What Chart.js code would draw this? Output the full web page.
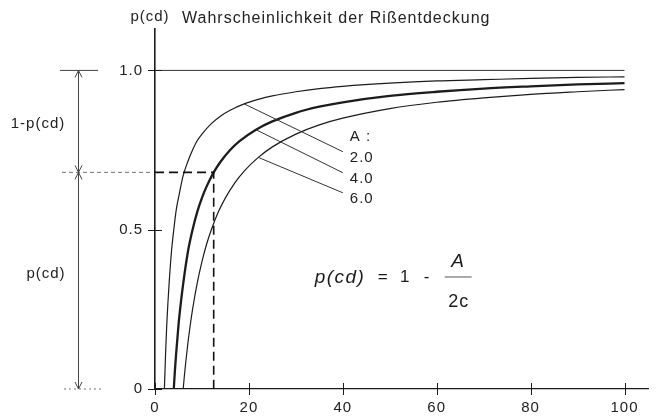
<!DOCTYPE html>
<html>
<head>
<meta charset="utf-8">
<script src="https://cdn.jsdelivr.net/npm/chart.js@4"></script>
<style>
  html, body { margin: 0; padding: 0; background: #fff; }
  canvas { display: block; }
</style>
</head>
<body>
<canvas id="c" width="656" height="418"></canvas>
<script>
// Detection probability p(cd) over crack length c, one curve per parameter A
const cA2 = [2, 2.25, 2.5, 2.75, 3, 3.5, 4, 4.5, 5, 6, 7, 8, 9, 10, 12, 14, 16, 19, 22, 25, 30, 35, 40, 50, 60, 70, 80, 90, 100];
const pA2 = [0, 0.11, 0.20, 0.27, 0.33, 0.43, 0.50, 0.56, 0.60, 0.67, 0.714, 0.75, 0.78, 0.80, 0.833, 0.857, 0.875, 0.895, 0.909, 0.92, 0.933, 0.943, 0.95, 0.96, 0.967, 0.971, 0.975, 0.978, 0.98];
const cA4 = [4, 4.25, 4.5, 5, 5.5, 6, 7, 8, 9, 10, 11, 12.5, 14, 16, 18, 21.5, 25, 30, 35, 40, 50, 60, 70, 80, 90, 100];
const pA4 = [0, 0.06, 0.11, 0.20, 0.27, 0.33, 0.43, 0.50, 0.556, 0.60, 0.636, 0.68, 0.714, 0.75, 0.778, 0.814, 0.84, 0.867, 0.886, 0.90, 0.92, 0.933, 0.943, 0.95, 0.956, 0.96];
const cA6 = [6, 6.25, 6.5, 7, 7.5, 8, 9, 10, 11, 12, 13.5, 15, 17, 19, 22, 25, 30, 35, 40, 50, 60, 70, 80, 90, 100];
const pA6 = [0, 0.04, 0.077, 0.143, 0.20, 0.25, 0.333, 0.40, 0.455, 0.50, 0.556, 0.60, 0.647, 0.684, 0.727, 0.76, 0.80, 0.829, 0.85, 0.88, 0.90, 0.914, 0.925, 0.933, 0.94];

const curveLabels = ['2.0', '4.0', '6.0'];
const leaderIdx = [17, 15, 14];          // point on each curve where its label leader starts
const labelC = 41.5;                     // label column position (c)
const labelP = [0.726, 0.66, 0.597];     // label rows (p)
const headerP = 0.792;                   // "A :" row

const xTicks = [0, 20, 40, 60, 80, 100];
const yTicks = [0, 0.5, 1];
const yTickLabels = ['0', '0.5', '1.0'];

const readC = 12.5;   // example reading on the A = 4.0 curve
const readP = 0.68;

const FONT = "'Liberation Sans', Arial, Helvetica, sans-serif";
const INK = '#1c1c1c';

const toPts = (cs, ps) => cs.map((c, i) => ({ x: c, y: ps[i] }));

// slightly open tracking for all lettering
const tracking = {
  id: 'tracking',
  beforeDraw(chart) { chart.ctx.letterSpacing = '1px'; }
};

const annotations = {
  id: 'annotations',
  afterDraw(chart) {
    const ctx = chart.ctx;
    const xs = chart.scales.x, ys = chart.scales.y;
    const ax = xs.getPixelForValue(0);
    const ay = ys.getPixelForValue(0);
    ctx.save();
    ctx.letterSpacing = '1px';

    // tick crosses on both axes
    ctx.strokeStyle = INK;
    ctx.lineWidth = 1;
    yTicks.forEach(v => {
      const y = Math.round(ys.getPixelForValue(v)) + 0.5;
      ctx.beginPath(); ctx.moveTo(ax - 7, y); ctx.lineTo(ax + 7, y); ctx.stroke();
    });
    xTicks.forEach(v => {
      const x = Math.round(xs.getPixelForValue(v)) + 0.5;
      ctx.beginPath(); ctx.moveTo(x, ay - 6); ctx.lineTo(x, ay + 6); ctx.stroke();
    });

    // reading line for the A = 4.0 example
    const rx = xs.getPixelForValue(readC), ry = ys.getPixelForValue(readP);
    ctx.strokeStyle = '#111';
    ctx.lineWidth = 1.6;
    ctx.setLineDash([9, 5]);
    ctx.beginPath(); ctx.moveTo(ax, ry); ctx.lineTo(rx, ry); ctx.lineTo(rx, ay); ctx.stroke();
    ctx.strokeStyle = '#777';
    ctx.lineWidth = 1;
    ctx.setLineDash([4, 3]);
    ctx.beginPath(); ctx.moveTo(62, ry); ctx.lineTo(ax - 2, ry); ctx.stroke();
    ctx.setLineDash([2, 3]);
    ctx.beginPath(); ctx.moveTo(64, ay); ctx.lineTo(102, ay); ctx.stroke();
    ctx.setLineDash([]);

    // dimension arrows on the left
    const y1 = ys.getPixelForValue(1);
    const dx = 78.5;
    ctx.strokeStyle = '#444';
    ctx.lineWidth = 1;
    ctx.beginPath(); ctx.moveTo(60, y1); ctx.lineTo(98, y1); ctx.stroke();
    ctx.beginPath(); ctx.moveTo(dx, y1); ctx.lineTo(dx, ay); ctx.stroke();
    const head = (x, y, d) => {
      ctx.beginPath();
      ctx.moveTo(x - 3.5, y - 7 * d); ctx.lineTo(x, y); ctx.lineTo(x + 3.5, y - 7 * d);
      ctx.stroke();
    };
    head(dx, y1, -1); head(dx, ry, 1); head(dx, ry, -1); head(dx, ay, 1);

    ctx.fillStyle = '#222';
    ctx.font = '15px ' + FONT;
    ctx.textAlign = 'center';
    ctx.textBaseline = 'middle';
    ctx.fillText('1-p(cd)', 38, (y1 + ry) / 2 + 2);
    ctx.fillText('p(cd)', 46, ys.getPixelForValue(0.36));

    // axis title
    ctx.fillText('p(cd)', ax - 5, 17);
    ctx.textAlign = 'left';
    ctx.font = '16px ' + FONT;
    ctx.fillText('Wahrscheinlichkeit der Rißentdeckung', 182, 19);

    // curve labels with leader lines
    const lx = xs.getPixelForValue(labelC);
    ctx.font = '15px ' + FONT;
    ctx.fillText('A :', lx, ys.getPixelForValue(headerP));
    ctx.strokeStyle = '#333';
    ctx.lineWidth = 1;
    curveLabels.forEach((t, i) => {
      const ty = ys.getPixelForValue(labelP[i]);
      ctx.fillText(t, lx, ty);
      const pt = chart.getDatasetMeta(i + 1).data[leaderIdx[i]];
      ctx.beginPath(); ctx.moveTo(pt.x, pt.y); ctx.lineTo(lx - 7, ty - 6); ctx.stroke();
    });

    // formula
    const fx = xs.getPixelForValue(34), fy = ys.getPixelForValue(0.35);
    ctx.fillStyle = '#1a1a1a';
    ctx.letterSpacing = '1.5px';
    ctx.font = 'italic 19px ' + FONT;
    ctx.textAlign = 'left';
    ctx.fillText('p(cd)', fx, fy);
    ctx.letterSpacing = '0px';
    ctx.font = '17px ' + FONT;
    ctx.textAlign = 'center';
    ctx.fillText('=', fx + 68, fy);
    ctx.fillText('1', fx + 90, fy);
    ctx.fillText('-', fx + 112, fy);
    ctx.font = 'italic 19px ' + FONT;
    ctx.fillText('A', fx + 143, fy - 16);
    ctx.letterSpacing = '1px';
    ctx.font = '18px ' + FONT;
    ctx.fillText('2c', fx + 144, fy + 25);
    ctx.strokeStyle = '#555';
    ctx.beginPath(); ctx.moveTo(fx + 130, fy - 0.5); ctx.lineTo(fx + 157, fy - 0.5); ctx.stroke();

    ctx.restore();
  }
};

const lineStyle = (w) => ({
  borderColor: INK,
  borderWidth: w,
  pointRadius: 0,
  fill: false,
  cubicInterpolationMode: 'monotone'
});

new Chart(document.getElementById('c'), {
  type: 'line',
  data: {
    datasets: [
      { data: [{ x: 0, y: 1 }, { x: 100, y: 1 }], borderColor: '#333', borderWidth: 1, pointRadius: 0 },
      { data: toPts(cA2, pA2), ...lineStyle(1.2) },
      { data: toPts(cA4, pA4), ...lineStyle(2.3) },
      { data: toPts(cA6, pA6), ...lineStyle(1.2) }
    ]
  },
  options: {
    responsive: false,
    animation: false,
    layout: { padding: { left: 115, right: 8, top: 29, bottom: 0 } },
    plugins: { legend: { display: false }, tooltip: { enabled: false } },
    scales: {
      x: {
        type: 'linear', min: 0, max: 105,
        afterFit(s) { s.height = 29; },
        afterBuildTicks(s) { s.ticks = xTicks.map(v => ({ value: v })); },
        grid: { display: true, drawOnChartArea: false, drawTicks: false },
        border: { display: true, color: INK, width: 1.3 },
        ticks: { padding: 10, color: '#222', font: { family: FONT, size: 15 }, maxRotation: 0,
                 callback: v => String(v) }
      },
      y: {
        type: 'linear', min: 0, max: 1.13,
        afterFit(s) { s.width = 40; },
        afterBuildTicks(s) { s.ticks = yTicks.map(v => ({ value: v })); },
        grid: { display: true, drawOnChartArea: false, drawTicks: false },
        border: { display: true, color: INK, width: 1.6 },
        ticks: { padding: 12, color: '#222', font: { family: FONT, size: 15 },
                 callback: v => yTickLabels[yTicks.indexOf(v)] }
      }
    }
  },
  plugins: [tracking, annotations]
});
</script>
</body>
</html>
